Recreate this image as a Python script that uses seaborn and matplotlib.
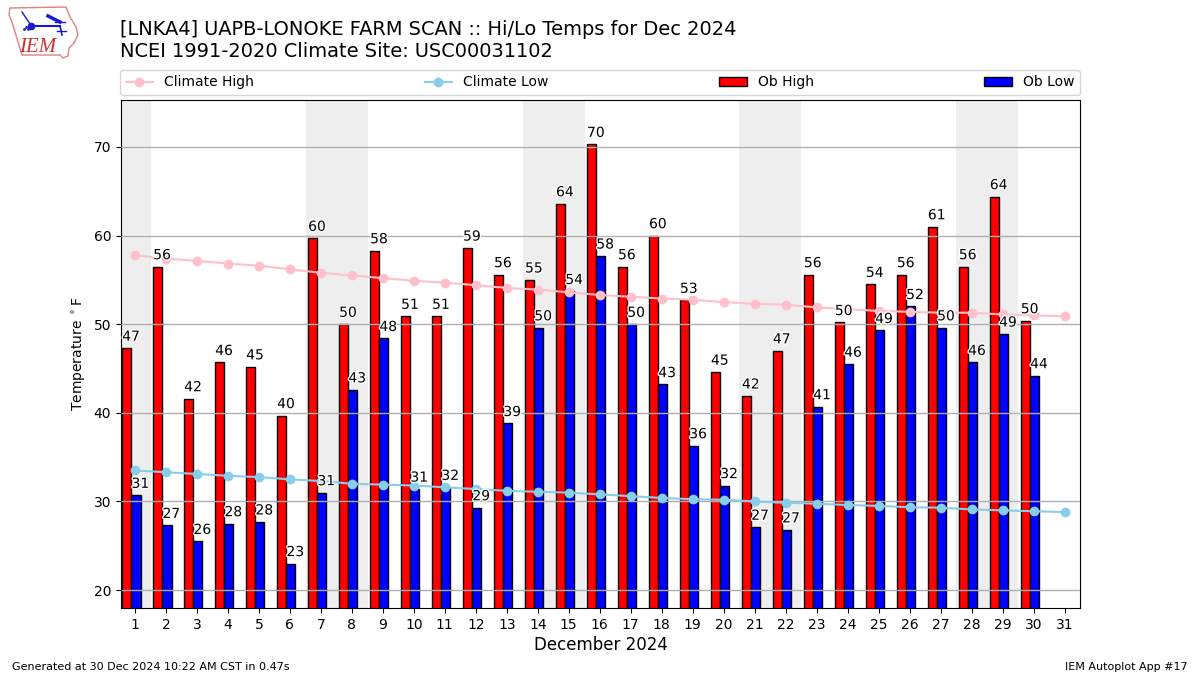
import matplotlib
matplotlib.use('Agg')
import matplotlib.pyplot as plt
import matplotlib.patheffects as PathEffects
from matplotlib.patches import Polygon
import numpy as np
import seaborn as sns

days = list(range(1, 32))
weekend_days = [1, 7, 8, 14, 15, 21, 22, 28, 29]

ob_high = [47.3, 56.5, 41.6, 45.7, 45.2, 39.7, 59.7, 50.0, 58.3, 50.9,
           50.9, 58.6, 55.6, 55.0, 63.6, 70.3, 56.5, 60.0, 52.7, 44.6,
           41.9, 47.0, 55.6, 50.2, 54.5, 55.6, 61.0, 56.5, 64.4, 50.4]
ob_low = [30.7, 27.3, 25.5, 27.5, 27.7, 23.0, 31.0, 42.6, 48.4, 31.4,
          31.6, 29.3, 38.8, 49.6, 53.7, 57.7, 50.0, 43.2, 36.3, 31.8,
          27.1, 26.8, 40.7, 45.5, 49.3, 52.0, 49.6, 45.7, 48.9, 44.2]
climate_high = [57.8, 57.4, 57.15, 56.85, 56.6, 56.2, 55.8, 55.5, 55.2, 54.9,
                54.7, 54.4, 54.1, 53.9, 53.6, 53.3, 53.1, 52.9, 52.75, 52.5,
                52.3, 52.2, 51.9, 51.7, 51.5, 51.4, 51.3, 51.3, 51.1, 51.0, 50.9]
climate_low = [33.5, 33.3, 33.1, 32.9, 32.75, 32.5, 32.3, 32.0, 31.9, 31.8,
               31.6, 31.4, 31.2, 31.1, 31.0, 30.8, 30.6, 30.4, 30.25, 30.2,
               30.0, 29.85, 29.75, 29.6, 29.5, 29.35, 29.3, 29.1, 29.0, 28.9, 28.8]
yticks = [20, 30, 40, 50, 60, 70]

BAR_WIDTH = 0.3
halo = [PathEffects.withStroke(linewidth=2, foreground='white')]

fig = plt.figure(figsize=(12, 6.75), dpi=100)
ax = fig.add_axes([121 / 1200, 1 - 608 / 675, 959 / 1200, 508 / 675])

# weekends
for d in weekend_days:
    ax.axvspan(d - 0.49, d + 0.51, color='#eeeeee', lw=0, zorder=0)

obs_days = np.array(days[:len(ob_high)])
sns.barplot(x=obs_days - 0.27, y=ob_high, native_scale=True, width=BAR_WIDTH,
            color='red', saturation=1, edgecolor='black', linewidth=1,
            errorbar=None, ax=ax, zorder=2)
sns.barplot(x=obs_days + 0.03, y=ob_low, native_scale=True, width=BAR_WIDTH,
            color='blue', saturation=1, edgecolor='black', linewidth=1,
            errorbar=None, ax=ax, zorder=2)

sns.lineplot(x=days, y=climate_high, color='pink', marker='o', markersize=6,
             markeredgecolor='pink', markeredgewidth=1, linewidth=1.5,
             errorbar=None, ax=ax, zorder=4)
sns.lineplot(x=days, y=climate_low, color='skyblue', marker='o', markersize=6,
             markeredgecolor='skyblue', markeredgewidth=1, linewidth=1.5,
             errorbar=None, ax=ax, zorder=4)

# value labels start at each bar's left edge
for d, hi, lo in zip(obs_days, ob_high, ob_low):
    ax.text(d - 0.41, hi + 0.5, f"{hi:.0f}", fontsize=10, ha='left', va='bottom',
            path_effects=halo, zorder=6)
    ax.text(d - 0.11, lo + 0.5, f"{lo:.0f}", fontsize=10, ha='left', va='bottom',
            path_effects=halo, zorder=6)

ax.set_xlim(0.55, 31.5)
ax.set_ylim(17.98, 75.3)
ax.set_xticks(days)
ax.set_xticklabels([str(d) for d in days])
ax.set_yticks(yticks)
ax.grid(True, axis='y', color='#b0b0b0', lw=1, zorder=3)
ax.set_axisbelow(False)
ax.set_xlabel('December 2024', fontsize=12, labelpad=3)
ax.set_ylabel(r'Temperature $^\circ$F', fontsize=10)

line_high = [l for l in ax.lines if l.get_color() == 'pink'][0]
line_low = [l for l in ax.lines if l.get_color() == 'skyblue'][0]
ax.legend([line_high, line_low, ax.containers[0], ax.containers[1]],
          ['Climate High', 'Climate Low', 'Ob High', 'Ob Low'],
          loc='lower left', bbox_to_anchor=(-0.001, 1.01, 1.001, 0.05), ncol=4,
          mode='expand', borderaxespad=0, fontsize=10)

fig.text(120 / 1200, 1 - 35 / 675,
         '[LNKA4] UAPB-LONOKE FARM SCAN :: Hi/Lo Temps for Dec 2024', fontsize=13.97, va='baseline')
fig.text(120 / 1200, 1 - 57 / 675,
         'NCEI 1991-2020 Climate Site: USC00031102', fontsize=13.97, va='baseline')
fig.text(12 / 1200, 1 - 670 / 675, 'Generated at 30 Dec 2024 10:22 AM CST in 0.47s', fontsize=8)
fig.text(1188 / 1200, 1 - 670 / 675, 'IEM Autoplot App #17', fontsize=8, ha='right')

# logo
logo = fig.add_axes([0, 1 - 62 / 675, 85 / 1200, 62 / 675])
logo.set_xlim(0, 85)
logo.set_ylim(62, 0)
logo.axis('off')
logo.add_patch(Polygon([(10, 8), (66, 7), (70, 17), (76, 27), (78, 35), (74, 43), (69, 48),
                        (68, 56), (63, 58), (60, 55), (22, 55), (18, 42), (12, 22), (9, 15)],
                       closed=True, fill=False, edgecolor='#e08080', lw=1))
logo.plot([31, 60], [26, 26], color='#1a1ad0', lw=1.5)
logo.plot([31], [26], 'o', color='#1a1ad0', ms=4.5)
logo.plot([48, 60], [16, 22], color='#1a1ad0', lw=2.5)
logo.plot([55, 65], [22, 22], color='#1a1ad0', lw=1)
logo.plot([22, 30], [12, 24], color='#1a1ad0', lw=1)
logo.plot([60, 62], [26, 35], color='#1a1ad0', lw=1.2)
logo.plot([57, 66], [31, 31], color='#1a1ad0', lw=1)
logo.plot([24, 26, 28], [29, 27, 29], '.', color='#1a1ad0', ms=2)
logo.text(38, 52, 'IEM', color='#d03030', family='Liberation Serif', style='italic',
          fontsize=15, ha='center', va='baseline')

fig.savefig('out.png', dpi=100)
